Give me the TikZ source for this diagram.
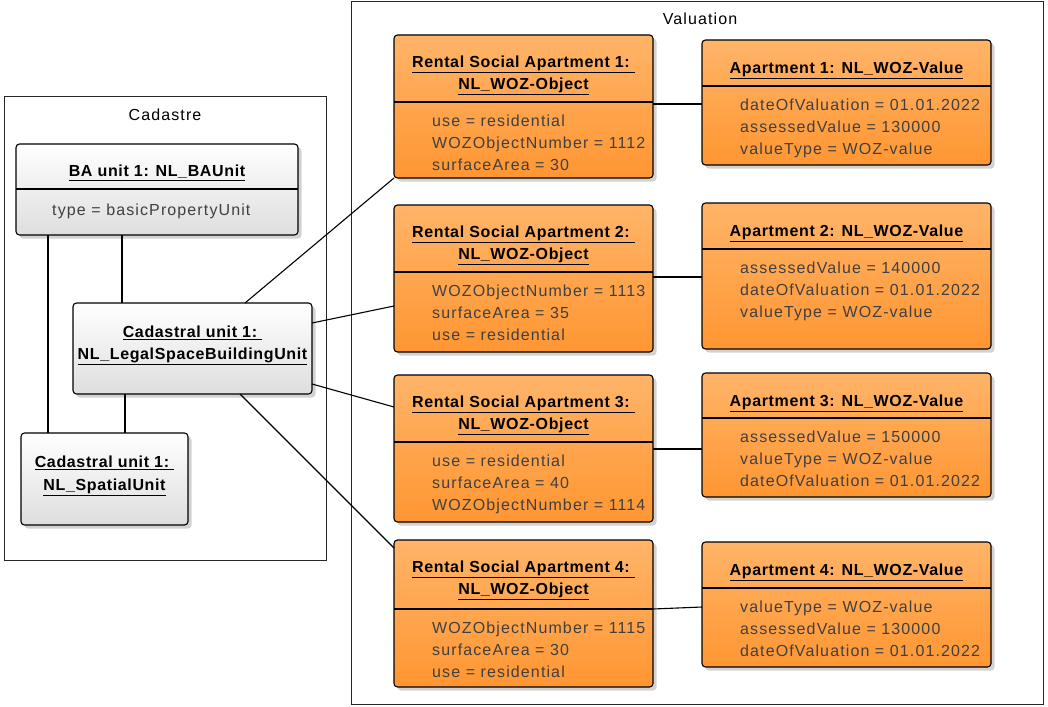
\documentclass[tikz,border=0pt]{standalone}
\usepackage{fontspec}
\setmainfont{Liberation Sans}
\newfontfamily\umlfont{Liberation Sans}[LetterSpace=7]
\newfontfamily\umlbold{Liberation Sans Bold}[LetterSpace=4]
\usetikzlibrary{shadows,calc}
\definecolor{otop}{HTML}{FFB469}
\definecolor{obot}{HTML}{FF9632}
\definecolor{attrc}{HTML}{404040}
\begin{document}
\begin{tikzpicture}[x=1pt,y=-1pt,
  box/.style={draw=black, line width=1.1pt, rounded corners=3.5pt, inner sep=0pt, outer sep=0pt,
    drop shadow={shadow xshift=3.5pt, shadow yshift=-3.5pt, fill=black!22, opacity=0.8}},
  obox/.style={box, top color=otop, bottom color=obot},
  gbox/.style={box, top color=white, bottom color=black!13},
  ttlnode/.style={font=\umlbold\fontsize{16}{22.5}\selectfont, align=center, inner sep=0pt},
  attrnode/.style={font=\umlfont\fontsize{16}{22}\selectfont, text=attrc, align=left, anchor=west, inner sep=0pt},
  frame/.style={draw=black!85, line width=0.9pt, inner sep=0pt, outer sep=0pt},
  lbl/.style={font=\umlfont\fontsize{16}{19}\selectfont, inner sep=0pt},
  conn/.style={draw=black, line width=1.1pt},
  divline/.style={draw=black, line width=1.1pt}
]
\useasboundingbox (0,0) rectangle (1048,706);

% frames
\node[frame, minimum width=322pt, minimum height=464pt] (cad) at (165,328) {};
\node[lbl] (cadl) at (165,116.5) {\strut Cadastre};
\node[frame, minimum width=692pt, minimum height=702.5pt] (val) at (697,352.75) {};
\node[lbl] (vall) at (700,21) {\strut Valuation};

% cadastre boxes
\node[gbox, minimum width=282pt, minimum height=91pt] (ba) at (157,189.5) {};
\node[gbox, minimum width=239pt, minimum height=91pt] (legal) at (192.5,348.5) {};
\node[gbox, minimum width=167pt, minimum height=92pt] (spatial) at (104.5,479) {};
\draw[divline] (ba.west |- 0,189) -- (ba.east |- 0,189);
\node[ttlnode] (bat) at (157,172) {\strut\underline{BA unit 1: NL\_BAUnit}};
\node[attrnode] (baa) at (52,211) {\strut type = basicPropertyUnit};
\node[ttlnode] (legalt) at (192.5,344) {\strut\underline{Cadastral unit 1:\ }\\\strut\underline{NL\_LegalSpaceBuildingUnit}};
\node[ttlnode] (spatialt) at (104.5,474.5) {\strut\underline{Cadastral unit 1:\ }\\\strut\underline{NL\_SpatialUnit}};

% WOZ objects
\node[obox, minimum width=259pt, minimum height=143pt] (woz1) at (523.5,106.5) {};
\node[obox, minimum width=259pt, minimum height=147pt] (woz2) at (523.5,278.5) {};
\node[obox, minimum width=259pt, minimum height=147pt] (woz3) at (523.5,448.5) {};
\node[obox, minimum width=259pt, minimum height=147pt] (woz4) at (523.5,613.5) {};
\draw[divline] (woz1.west |- 0,102) -- (woz1.east |- 0,102);
\draw[divline] (woz2.west |- 0,272) -- (woz2.east |- 0,272);
\draw[divline] (woz3.west |- 0,442) -- (woz3.east |- 0,442);
\draw[divline] (woz4.west |- 0,609) -- (woz4.east |- 0,609);
\node[ttlnode] (woz1t) at (523.5,74) {\strut\underline{Rental Social Apartment 1:\ }\\\strut\underline{NL\_WOZ-Object}};
\node[ttlnode] (woz2t) at (523.5,244) {\strut\underline{Rental Social Apartment 2:\ }\\\strut\underline{NL\_WOZ-Object}};
\node[ttlnode] (woz3t) at (523.5,414) {\strut\underline{Rental Social Apartment 3:\ }\\\strut\underline{NL\_WOZ-Object}};
\node[ttlnode] (woz4t) at (523.5,579) {\strut\underline{Rental Social Apartment 4:\ }\\\strut\underline{NL\_WOZ-Object}};
\node[attrnode] (woz1a) at (432,144) {\strut use = residential\\\strut WOZObjectNumber = 1112\\\strut surfaceArea = 30};
\node[attrnode] (woz2a) at (432,314) {\strut WOZObjectNumber = 1113\\\strut surfaceArea = 35\\\strut use = residential};
\node[attrnode] (woz3a) at (432,484) {\strut use = residential\\\strut surfaceArea = 40\\\strut WOZObjectNumber = 1114};
\node[attrnode] (woz4a) at (432,651) {\strut WOZObjectNumber = 1115\\\strut surfaceArea = 30\\\strut use = residential};

% WOZ values
\node[obox, minimum width=289pt, minimum height=125pt] (val1) at (846.5,102.5) {};
\node[obox, minimum width=289pt, minimum height=146pt] (val2) at (846.5,276) {};
\node[obox, minimum width=289pt, minimum height=124pt] (val3) at (846.5,435) {};
\node[obox, minimum width=289pt, minimum height=125pt] (val4) at (846.5,604.5) {};
\draw[divline] (val1.west |- 0,86) -- (val1.east |- 0,86);
\draw[divline] (val2.west |- 0,249) -- (val2.east |- 0,249);
\draw[divline] (val3.west |- 0,418) -- (val3.east |- 0,418);
\draw[divline] (val4.west |- 0,588) -- (val4.east |- 0,588);
\node[ttlnode] (val1t) at (846.5,69) {\strut\underline{Apartment 1: NL\_WOZ-Value}};
\node[ttlnode] (val2t) at (846.5,232) {\strut\underline{Apartment 2: NL\_WOZ-Value}};
\node[ttlnode] (val3t) at (846.5,402) {\strut\underline{Apartment 3: NL\_WOZ-Value}};
\node[ttlnode] (val4t) at (846.5,571) {\strut\underline{Apartment 4: NL\_WOZ-Value}};
\node[attrnode] (val1a) at (740,128) {\strut dateOfValuation = 01.01.2022\\\strut assessedValue = 130000\\\strut valueType = WOZ-value};
\node[attrnode] (val2a) at (740,291) {\strut assessedValue = 140000\\\strut dateOfValuation = 01.01.2022\\\strut valueType = WOZ-value};
\node[attrnode] (val3a) at (740,460) {\strut assessedValue = 150000\\\strut valueType = WOZ-value\\\strut dateOfValuation = 01.01.2022};
\node[attrnode] (val4a) at (740,630) {\strut valueType = WOZ-value\\\strut assessedValue = 130000\\\strut dateOfValuation = 01.01.2022};

% connectors
\draw[conn] (ba.south -| 48,0) -- (spatial.north -| 48,0);
\draw[conn] (ba.south -| 122,0) -- (legal.north -| 122,0);
\draw[conn] (legal.south -| 125,0) -- (spatial.north -| 125,0);
\draw[conn] (legal.north -| 245,0) -- (woz1.south west);
\draw[conn] (legal.east |- 0,323) -- (woz2.west |- 0,306);
\draw[conn] (legal.east |- 0,384) -- (woz3.west |- 0,407);
\draw[conn] (legal.south -| 240,0) -- (woz4.west |- 0,548);
\draw[conn] (woz1.east |- 0,104) -- (val1.west |- 0,104);
\draw[conn] (woz2.east |- 0,277) -- (val2.west |- 0,277);
\draw[conn] (woz3.east |- 0,449) -- (val3.west |- 0,449);
\draw[conn] (woz4.east |- 0,609) -- (val4.west |- 0,607);
\end{tikzpicture}
\end{document}
